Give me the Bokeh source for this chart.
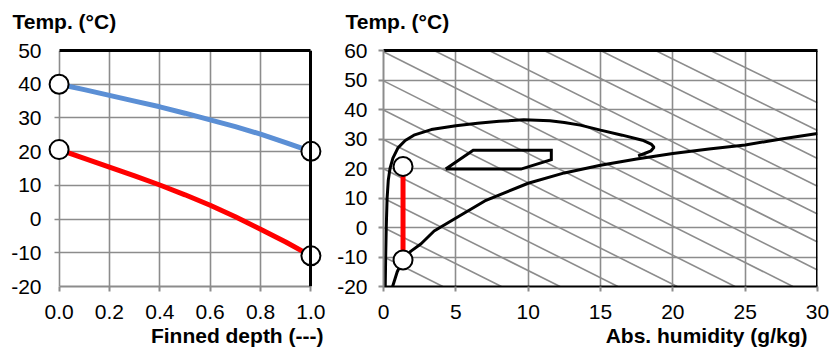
from bokeh.plotting import figure
from bokeh.models import Range1d, Title, FixedTicker, LinearAxis
from bokeh.layouts import row
from bokeh.embed import file_html
from bokeh.resources import INLINE

FONT = "Liberation Sans"
GRAY = "#8c8c8c"
FS = "21px"

# ---------------- left chart data: temperature along finned depth ----------------
depth = [0.0, 0.1, 0.2, 0.3, 0.4, 0.5, 0.6, 0.7, 0.8, 0.9, 1.0]
air_temp = [40.0, 38.4, 36.7, 35.0, 33.3, 31.4, 29.4, 27.4, 25.2, 22.7, 20.1]
fin_temp = [20.6, 18.0, 15.4, 12.8, 10.1, 7.2, 4.1, 0.7, -3.0, -6.8, -10.9]
end_depth = [0.0, 1.0]
air_ends = [40.0, 20.1]
fin_ends = [20.6, -10.9]
depth_ticks = [0.0, 0.2, 0.4, 0.6, 0.8, 1.0]
depth_labels = ["0.0", "0.2", "0.4", "0.6", "0.8", "1.0"]
left_temp_ticks = [-20, -10, 0, 10, 20, 30, 40, 50]
left_temp_labels = ["-20", "-10", "0", "10", "20", "30", "40", "50"]

# ---------------- right chart data: psychrometric view ----------------
sat_x = [0.63, 0.95, 1.35, 1.9, 2.6, 3.5, 5.1, 7.0, 10.0, 12.5, 15.0, 17.5, 20.0, 22.5, 25.0, 27.5, 30.0]
sat_t = [-20, -15, -11, -8, -5.5, -1.2, 3.5, 9.0, 15.0, 18.5, 21.1, 23.2, 25.1, 26.6, 28.0, 30.0, 31.9]

env_x = [0.12, 0.15, 0.19, 0.25, 0.33, 0.45, 0.65, 1.0, 1.5, 2.1, 3.3, 5.0, 6.5, 8.0, 9.7,
         11.5, 12.5, 13.6, 15.0, 16.5, 17.9, 18.5, 18.7, 18.5, 18.0, 17.6]
env_t = [-20, -10, 0, 10, 16, 20, 23.5, 27.0, 29.5, 31.3, 33.2, 34.5, 35.3, 36.0, 36.5,
         36.2, 35.6, 34.7, 33.0, 31.3, 29.6, 28.3, 27.2, 26.0, 25.0, 24.3]

zone_x = [4.3, 6.2, 11.6, 11.6, 9.5, 4.3]
zone_t = [19.8, 26.2, 26.2, 23.0, 19.8, 19.8]

proc_x = [1.35, 1.35]
proc_t = [20.7, -11.0]

# constant-enthalpy guide lines: start point and end point of each
enth_x0 = [0, 0, 0, 0, 0, 0, 0, 0, 3.5, 7.3, 11.1, 15.0, 18.8, 22.6]
enth_t0 = [-9.9, 0.0, 9.9, 19.9, 29.8, 39.8, 49.7, 59.6, 60, 60, 60, 60, 60, 60]
enth_x1 = [4.1, 8.15, 12.2, 16.2, 20.3, 24.3, 28.3, 30, 30, 30, 30, 30, 30, 30]
enth_t1 = [-20, -20, -20, -20, -20, -20, -20, -14.4, -4.9, 4.6, 14.0, 23.4, 32.9, 42.3]

hum_ticks = [0, 5, 10, 15, 20, 25, 30]
hum_labels = ["0", "5", "10", "15", "20", "25", "30"]
right_temp_ticks = [-20, -10, 0, 10, 20, 30, 40, 50, 60]
right_temp_labels = ["-20", "-10", "0", "10", "20", "30", "40", "50", "60"]


def style_axis(ax, ticks, labels, line_color, standoff, tick_out=5):
    ax.ticker = FixedTicker(ticks=ticks)
    ax.axis_line_color = line_color
    ax.axis_line_width = 2
    ax.major_tick_line_color = GRAY
    ax.major_tick_line_width = 2
    ax.major_tick_out = tick_out
    ax.major_tick_in = 0
    ax.minor_tick_line_color = None
    ax.major_label_text_font = FONT
    ax.major_label_text_font_size = FS
    ax.major_label_text_color = "black"
    ax.major_label_standoff = standoff
    ax.major_label_overrides = {t: l for t, l in zip(ticks, labels)}


def border_axis(bounds, loc=None, space=0):
    # plain black frame edge; an invisible tick (space > 0) only reserves room above the frame
    ticks = [bounds[0]] if space > 0 else []
    ax = LinearAxis(bounds=bounds, ticker=FixedTicker(ticks=ticks),
                    axis_line_color="black", axis_line_width=3,
                    major_tick_out=space, major_tick_in=0, minor_tick_out=0, minor_tick_in=0,
                    major_tick_line_color=None, minor_tick_line_color=None,
                    major_label_standoff=0, major_label_text_font_size="0px",
                    major_label_overrides={t: "" for t in ticks})
    if loc is not None:
        ax.fixed_location = loc
    return ax


def style_fig(p, title_offset, xlabel, xlabel_offset):
    p.outline_line_color = None
    p.background_fill_color = "white"
    p.border_fill_color = "white"
    p.title.text = "Temp. (°C)"
    p.title.align = "left"
    p.title.offset = title_offset
    p.title.text_font = FONT
    p.title.text_font_size = FS
    p.title.text_font_style = "bold"
    p.title.text_color = "black"
    p.title.standoff = 14
    p.add_layout(Title(text=xlabel, align="right", offset=xlabel_offset, text_font=FONT,
                       text_font_size=FS, text_font_style="bold", text_color="black",
                       standoff=0), "below")
    for g in (p.xgrid[0], p.ygrid[0]):
        g.grid_line_color = GRAY
        g.grid_line_width = 1.6


# ---------------- left figure ----------------
pad = 0.05
left_fw = 277
tick_len = 5 / (left_fw / (depth_ticks[-1] - depth_ticks[0] + 2 * pad))
left = figure(frame_width=left_fw, frame_height=236,
              x_range=Range1d(depth_ticks[0] - pad, depth_ticks[-1] + pad),
              y_range=Range1d(left_temp_ticks[0], left_temp_ticks[-1]),
              min_border_left=46, min_border_right=11, min_border_top=50, min_border_bottom=65,
              output_backend="svg", toolbar_location=None)
l_xax = left.below[0]
l_yax = left.left[0]
style_axis(l_xax, depth_ticks, depth_labels, GRAY, 13)
l_xax.bounds = (depth_ticks[0], depth_ticks[-1])
style_axis(l_yax, left_temp_ticks, left_temp_labels, None, 5, tick_out=0)
style_fig(left, -34, "Finned depth (---)", 0)
left.xgrid[0].ticker = FixedTicker(ticks=depth_ticks)
left.ygrid[0].ticker = FixedTicker(ticks=left_temp_ticks)
left.ygrid[0].cross_bounds = (depth_ticks[0] - tick_len, depth_ticks[-1])
left.add_layout(border_axis((depth_ticks[0], depth_ticks[-1]), space=11), "above")
left.add_layout(border_axis((left_temp_ticks[0], left_temp_ticks[-1]), loc=depth_ticks[-1]), "right")

left.line(depth, air_temp, line_color="#5B8FD5", line_width=5)
left.line(depth, fin_temp, line_color="#FF0000", line_width=5)
left.scatter(end_depth, air_ends, size=19, fill_color="white", line_color="black", line_width=2)
left.scatter(end_depth, fin_ends, size=19, fill_color="white", line_color="black", line_width=2)

# ---------------- right figure ----------------
right = figure(frame_width=434, frame_height=236,
               x_range=Range1d(hum_ticks[0], hum_ticks[-1]),
               y_range=Range1d(right_temp_ticks[0], right_temp_ticks[-1]),
               min_border_left=48, min_border_right=16, min_border_top=50, min_border_bottom=65,
               output_backend="svg", toolbar_location=None)
r_xax = right.below[0]
r_yax = right.left[0]
style_axis(r_xax, hum_ticks, hum_labels, "black", 13)
style_axis(r_yax, right_temp_ticks, right_temp_labels, GRAY, 11)
style_fig(right, -38, "Abs. humidity (g/kg)", 10)
right.xgrid[0].ticker = FixedTicker(ticks=hum_ticks)
right.ygrid[0].ticker = FixedTicker(ticks=right_temp_ticks)
right.add_layout(border_axis((hum_ticks[0], hum_ticks[-1]), space=11), "above")
right.add_layout(border_axis((right_temp_ticks[0], right_temp_ticks[-1]), loc=hum_ticks[-1]), "right")

right.multi_line([[a, b] for a, b in zip(enth_x0, enth_x1)],
                 [[a, b] for a, b in zip(enth_t0, enth_t1)],
                 line_color=GRAY, line_width=1.6)
right.line(sat_x, sat_t, line_color="black", line_width=3)
right.line(env_x, env_t, line_color="black", line_width=3)
right.line(zone_x, zone_t, line_color="black", line_width=3, line_join="miter")
right.line(proc_x, proc_t, line_color="#FF0000", line_width=5)
right.scatter(proc_x, proc_t, size=19, fill_color="white", line_color="black", line_width=2)

layout = row(left, right, spacing=0)
open("out.html", "w").write(file_html(layout, INLINE))
